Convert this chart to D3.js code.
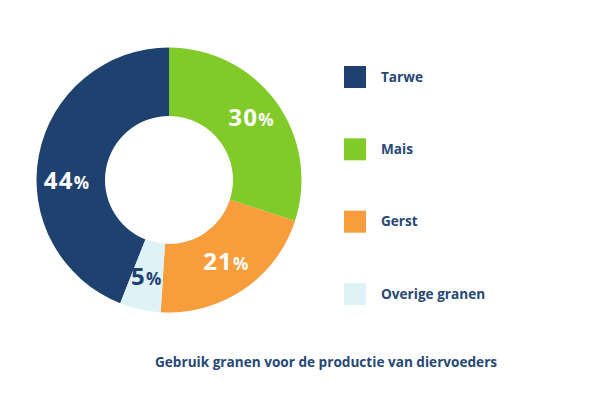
<!DOCTYPE html>
<html>
<head>
<meta charset="utf-8">
<script src="https://cdn.jsdelivr.net/npm/d3@7"></script>
<style>
  body { margin: 0; background: #fff; }
  text { font-family: "Open Sans", Lato, sans-serif; font-weight: 700; }
</style>
</head>
<body>
<svg id="chart"></svg>
<script>
const categories = ["Tarwe", "Mais", "Gerst", "Overige granen"];
const shares = [44, 30, 21, 5];
const colors = ["#1f4170", "#80cb28", "#f79d3b", "#def2f8"];
const labelColors = ["#fff", "#fff", "#fff", "#1f4170"];
const title = "Gebruik granen voor de productie van diervoeders";

const width = 594;
const height = 409;
const cx = 169;
const cy = 180;
const outerR = 132.5;
const innerR = 64;

const svg = d3.select("#chart").attr("width", width).attr("height", height);

const data = categories.map((c, i) => ({ name: c, value: shares[i], color: colors[i], label: labelColors[i] }));

// Tarwe ends at 12 o'clock, Mais starts there
const pie = d3
  .pie()
  .sort(null)
  .value((d) => d.value)
  .startAngle((-shares[0] / 100) * 2 * Math.PI)
  .endAngle((1 - shares[0] / 100) * 2 * Math.PI);

const arc = d3.arc().innerRadius(innerR).outerRadius(outerR);
const labelArc = d3.arc().innerRadius(102).outerRadius(102);

const g = svg.append("g").attr("transform", `translate(${cx},${cy})`);

const slices = g.selectAll(".slice").data(pie(data)).enter().append("g").attr("class", "slice");

slices
  .append("path")
  .attr("d", arc)
  .attr("fill", (d) => d.data.color);

// Labels (big slice label sits a bit lower, near the horizontal)
const labelPos = (d) => {
  if (d.data.value > 40) {
    const a = d.endAngle - (d.endAngle - d.startAngle) * 0.58;
    return labelArc.centroid({ startAngle: a, endAngle: a });
  }
  return labelArc.centroid(d);
};

const lbl = slices
  .append("text")
  .attr("transform", (d) => `translate(${labelPos(d)})`)
  .attr("text-anchor", "middle")
  .attr("dy", "0.36em")
  .attr("letter-spacing", 1.2)
  .attr("fill", (d) => d.data.label);
lbl.append("tspan").attr("font-size", 24).text((d) => d.data.value);
lbl.append("tspan").attr("font-size", 17).text("%");

// Legend
const yLegend = d3.scalePoint().domain(categories).range([66, 283]);

const legend = svg
  .selectAll(".legend")
  .data(data)
  .enter()
  .append("g")
  .attr("class", "legend")
  .attr("transform", (d) => `translate(344,${yLegend(d.name)})`);

legend
  .append("rect")
  .attr("width", 22)
  .attr("height", 22)
  .attr("fill", (d) => d.color);

legend
  .append("text")
  .attr("x", 37)
  .attr("y", 11)
  .attr("dy", "0.35em")
  .attr("font-size", 13.6)
  .attr("fill", "#274775")
  .text((d) => d.name);

// Title
svg
  .append("text")
  .attr("x", 155)
  .attr("y", 362)
  .attr("dy", "0.35em")
  .attr("font-size", 13.6)
  .attr("fill", "#274775")
  .text(title);
</script>
</body>
</html>
